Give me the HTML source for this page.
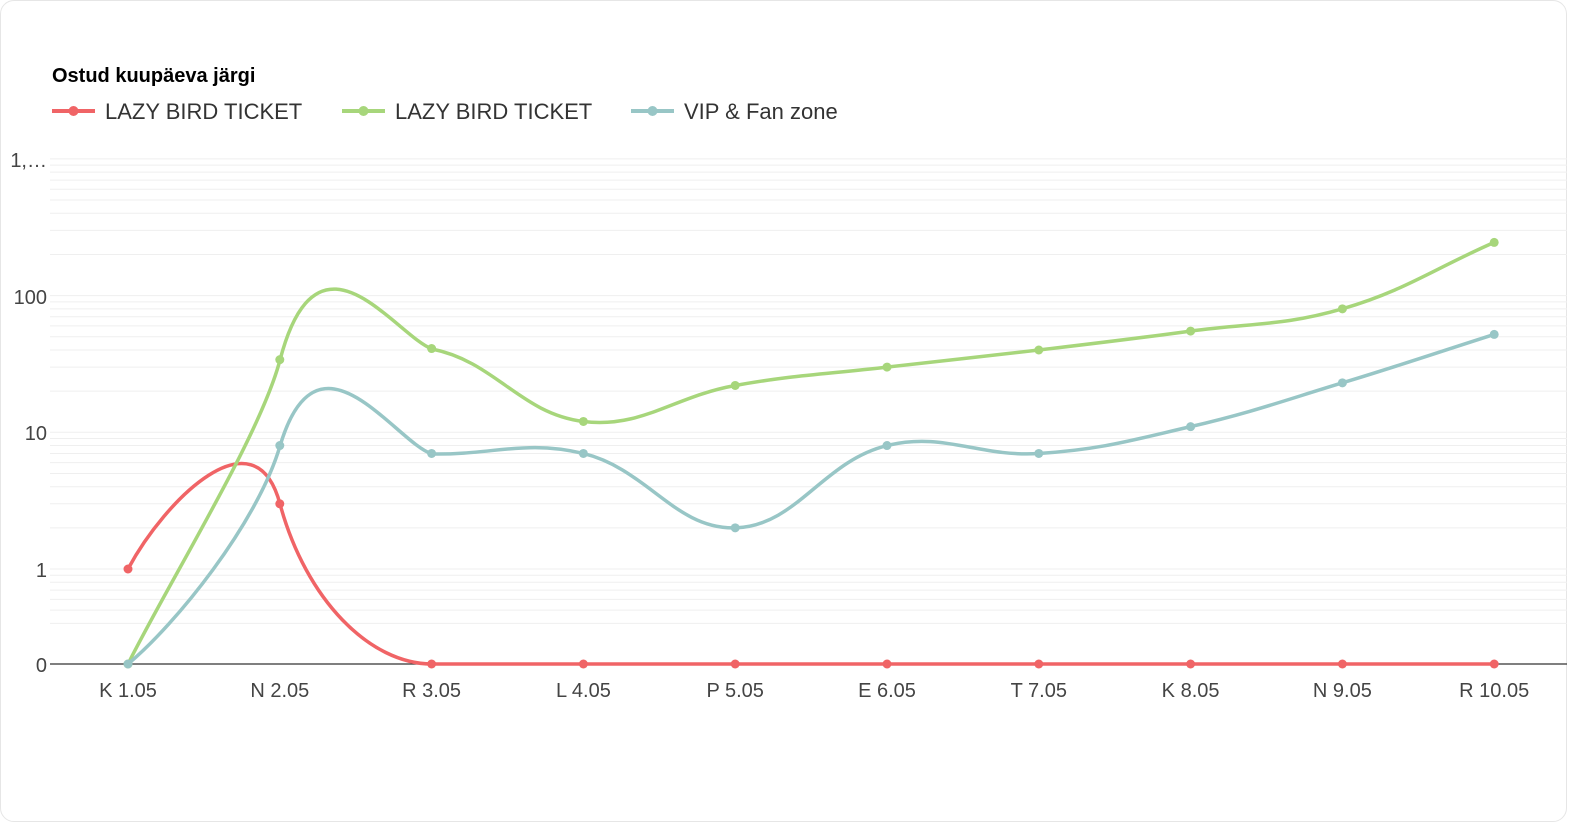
<!DOCTYPE html>
<html><head><meta charset="utf-8"><style>
html,body{margin:0;padding:0;background:#fff;}
body{width:1577px;height:828px;overflow:hidden;font-family:"Liberation Sans",sans-serif;}
.card{position:absolute;left:0;top:0;width:1565px;height:820px;border:1px solid #e6e6e6;border-radius:14px;}
</style></head><body>
<div class="card"></div>
<svg id="s" width="1577" height="828" style="position:absolute;left:0;top:0" font-family="Liberation Sans, sans-serif">
<text x="52" y="82" font-size="20" font-weight="bold" fill="#000">Ostud kuupäeva järgi</text>
<g font-size="22" fill="#333">
<line x1="52" y1="111" x2="95" y2="111" stroke="#f06466" stroke-width="4"/><circle cx="73.5" cy="111" r="5" fill="#f06466"/>
<text x="105" y="119">LAZY BIRD TICKET</text>
<line x1="342" y1="111" x2="385" y2="111" stroke="#a7d67b" stroke-width="4"/><circle cx="363.5" cy="111" r="5" fill="#a7d67b"/>
<text x="395" y="119">LAZY BIRD TICKET</text>
<line x1="631" y1="111" x2="674" y2="111" stroke="#98c6c6" stroke-width="4"/><circle cx="652.5" cy="111" r="5" fill="#98c6c6"/>
<text x="684" y="119">VIP &amp; Fan zone</text>
</g>
<g id="grid"></g>
<g font-size="20" fill="#444" text-anchor="end">
<text x="47" y="167">1,…</text>
<text x="47" y="304">100</text>
<text x="47" y="440">10</text>
<text x="47" y="577">1</text>
<text x="47" y="672">0</text>
</g>
<line x1="50" y1="664" x2="1567" y2="664" stroke="#333" stroke-width="1.2"/>
<g id="xl" font-size="20" fill="#444" text-anchor="middle"></g>
<g id="series"></g>
</svg>
<script>
var NS="http://www.w3.org/2000/svg";
function el(t,a,p){var e=document.createElementNS(NS,t);for(var k in a)e.setAttribute(k,a[k]);p.appendChild(e);return e;}
var grid=document.getElementById('grid');
function yv(v){return 569-136.7*Math.log10(v);}
var ys=[];
for(var d=0;d<3;d++)for(var m=1;m<10;m++)ys.push(yv(m*Math.pow(10,d)));
ys.push(yv(1000));
[0.9,0.8,0.7,0.6,0.5,0.4].forEach(function(v){ys.push(yv(v));});
ys.forEach(function(y){el('line',{x1:50,x2:1567,y1:y,y2:y,stroke:'#efefef','stroke-width':1},grid);});
var labels=["K 1.05","N 2.05","R 3.05","L 4.05","P 5.05","E 6.05","T 7.05","K 8.05","N 9.05","R 10.05"];
var xl=document.getElementById('xl');
function xi(i){return 128+i*151.8;}
labels.forEach(function(l,i){var t=el('text',{x:xi(i),y:697},xl);t.textContent=l;});
function py(v){return v<=0?664:yv(v);}
var data=[
 {c:'#f06466',v:[1,3,0,0,0,0,0,0,0,0],o:{1:"C165,500 255,410 280,504",2:"C306,600 370,664 432,664"}},
 {c:'#a7d67b',v:[0,34,41,12,22,30,40,55,80,245],o:{1:"C170,580 260,436 280,360",2:"C318,215 395,335 432,349"}},
 {c:'#98c6c6',v:[0,8,7,7,2,8,7,11,23,52],o:{1:"C175,625 257,524 280,446",2:"C318,318 395,442 432,454"}}
];
var sg=document.getElementById('series');
data.forEach(function(s){
 var p=s.v.map(function(v,i){return {x:xi(i),y:py(v)};});
 var t=0.4,cp=[];
 for(var i=0;i<p.length;i++){
  var a=p[i-1]||p[i],b=p[i],c=p[i+1]||p[i];
  var d01=Math.hypot(b.x-a.x,b.y-a.y),d12=Math.hypot(c.x-b.x,c.y-b.y);
  var s01=d01/(d01+d12)||0,s12=d12/(d01+d12)||0;
  var fa=t*s01,fb=t*s12;
  cp.push({px:b.x-fa*(c.x-a.x),py:b.y-fa*(c.y-a.y),nx:b.x+fb*(c.x-a.x),ny:b.y+fb*(c.y-a.y)});
 }
 var d="M"+p[0].x+","+p[0].y;
 for(var i=1;i<p.length;i++){
  if(s.o[i]){d+=" "+s.o[i];continue;}
  d+=" C"+cp[i-1].nx+","+Math.min(664,cp[i-1].ny)+" "+cp[i].px+","+Math.min(664,cp[i].py)+" "+p[i].x+","+p[i].y;
 }
 el('path',{d:d,fill:'none',stroke:s.c,'stroke-width':3.5},sg);
 p.forEach(function(q){el('circle',{cx:q.x,cy:q.y,r:4.5,fill:s.c},sg);});
});
</script>
</body></html>
